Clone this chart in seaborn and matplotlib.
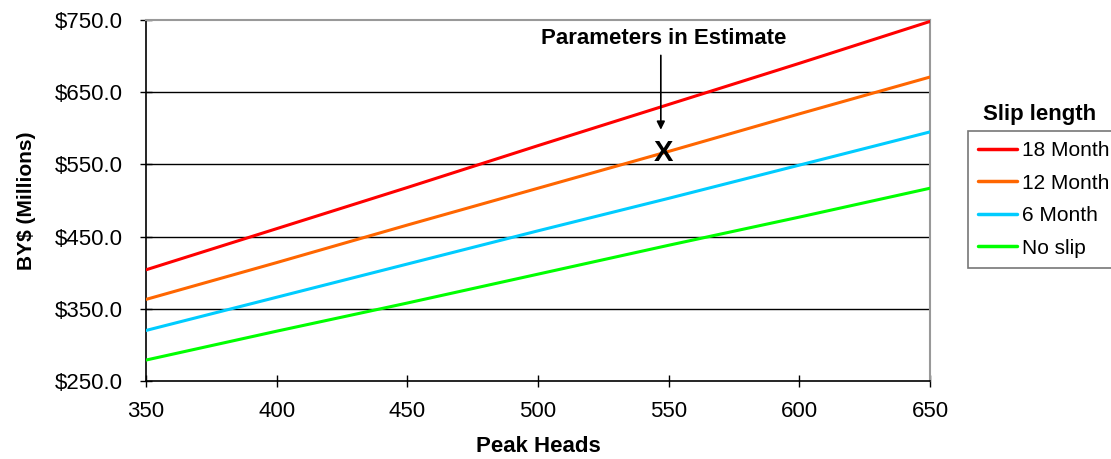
import numpy as np
import pandas as pd
import matplotlib
matplotlib.use("Agg")
import matplotlib.pyplot as plt
import seaborn as sns
from matplotlib.lines import Line2D

peak_heads = [350, 400, 450, 500, 550, 600, 650]
slip_18 = [404, 461, 518, 576, 633, 690, 748]
slip_12 = [363, 414, 466, 517, 568, 620, 671]
slip_6 = [320, 366, 412, 458, 503, 549, 595]
no_slip = [279, 319, 358, 398, 438, 477, 517]
series_names = ["18 Month", "12 Month", "6 Month", "No slip"]
colors = ["#FF0000", "#FF6600", "#00CCFF", "#00FF00"]
estimate_x, estimate_y = 548, 566
y_ticks = [250, 350, 450, 550, 650, 750]
x_ticks = [350, 400, 450, 500, 550, 600, 650]

sns.set_theme(style="white")
plt.rcParams['font.family'] = ['Liberation Sans', 'DejaVu Sans']
plt.rcParams['text.color'] = 'black'
plt.rcParams['axes.labelcolor'] = 'black'
plt.rcParams['xtick.color'] = 'black'
plt.rcParams['ytick.color'] = 'black'

rows = []
for name, vals in zip(series_names, [slip_18, slip_12, slip_6, no_slip]):
    for x, y in zip(peak_heads, vals):
        rows.append({"Peak Heads": x, "Value": y, "Slip length": name})
df = pd.DataFrame(rows)

fig = plt.figure(figsize=(11.11, 4.59), dpi=100)
ax = fig.add_axes([146/1111, 1 - 381/459, (930-146)/1111, (381-20)/459])

for y in y_ticks[1:-1]:
    ax.axhline(y, color="black", lw=1, zorder=1)

sns.lineplot(data=df, x="Peak Heads", y="Value", hue="Slip length",
             hue_order=series_names, palette=colors, lw=2.2, ax=ax, legend=False, zorder=3)

ax.set_xlim(350, 650)
ax.set_ylim(250, 750)
ax.set_xticks(x_ticks)
ax.set_yticks(y_ticks)
ax.set_yticklabels([f"${v:.1f}" for v in y_ticks])
ax.tick_params(axis="both", direction="inout", length=9, width=1, colors="black",
               labelsize=16, bottom=True, left=True)
ax.tick_params(axis="y", pad=12)
ax.tick_params(axis="x", pad=10)
ax.set_xlabel("Peak Heads", fontsize=16, fontweight="bold", labelpad=10)
ax.set_ylabel("BY$ (Millions)", fontsize=15, fontweight="bold", labelpad=14)

for s in ["top", "right"]:
    ax.spines[s].set_color("#999999")
    ax.spines[s].set_linewidth(1.5)
for s in ["left", "bottom"]:
    ax.spines[s].set_color("black")
    ax.spines[s].set_linewidth(1.2)

ax.text(estimate_x, estimate_y, "X", fontsize=21, fontweight="bold",
        ha="center", va="center", zorder=5)
ax.annotate("", xy=(547, 598), xytext=(547, 701),
            arrowprops=dict(arrowstyle="-|>", color="black", lw=1.2,
                            shrinkA=0, shrinkB=0, mutation_scale=12))
ax.text(548, 725, "Parameters in Estimate", fontsize=16, fontweight="bold",
        ha="center", va="center")

handles = [Line2D([0], [0], color=c, lw=2.5) for c in colors]
leg = fig.legend(handles, series_names, loc="upper left",
                 bbox_to_anchor=(968/1111, 1 - 131/459), fontsize=15,
                 frameon=True, fancybox=False, borderaxespad=0,
                 handlelength=1.85, labelspacing=0.65, borderpad=0.48, handletextpad=0.25)
leg.get_frame().set_edgecolor("#555555")
leg.get_frame().set_linewidth(1.2)
fig.text(1040/1111, 1 - 115/459, "Slip length", fontsize=16, fontweight="bold",
         ha="center", va="center")

fig.savefig("out.png", dpi=100)
